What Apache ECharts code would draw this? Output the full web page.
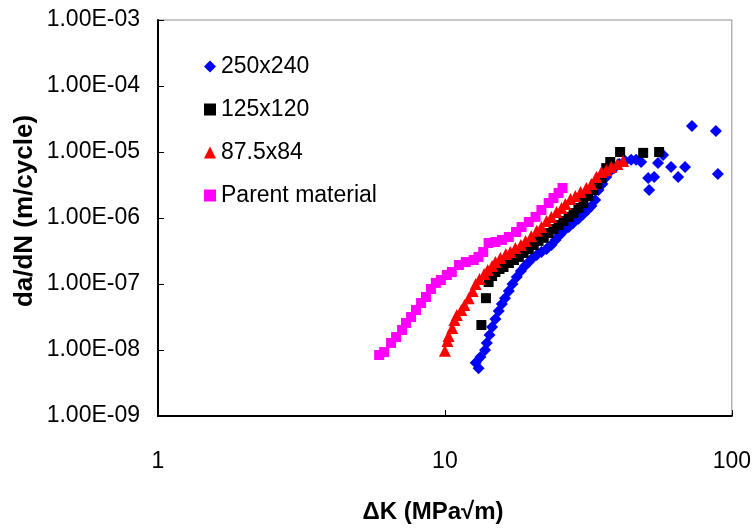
<!DOCTYPE html>
<html>
<head>
<meta charset="utf-8">
<script src="https://cdn.jsdelivr.net/npm/echarts@6/dist/echarts.min.js"></script>
<style>html,body{margin:0;padding:0;background:#fff}#c{width:754px;height:529px}</style>
</head>
<body>
<div id="c"></div>
<script>
// ---- data ----
const seriesNames = ['250x240', '125x120', '87.5x84', 'Parent material'];
const blueK = [13.1,12.8,13.3,13.8,14.0,14.3,14.6,15.0,15.4,15.8,16.2,16.7,17.2,17.8,18.4,19.0,19.6,20.2,20.9,21.7,22.6,23.5,24.3,25.1,25.9,27.0,28.0,29.2,30.4,31.4,32.4,33.4,34.3,35.4,36.5,37.4,38.9,40.5,42.5,44.6,46.4,48.3,51.1,53.6,51.5,55.3,57.6,61.4,65.0,68.7,72.6,88.0,89.4];
const blueV = [5.3e-9,6.4e-9,7.8e-9,1.0e-8,1.28e-8,1.69e-8,2.23e-8,2.95e-8,3.9e-8,4.97e-8,6.1e-8,7.8e-8,1.0e-7,1.28e-7,1.57e-7,1.87e-7,2.15e-7,2.48e-7,2.75e-7,3.05e-7,3.39e-7,3.9e-7,4.65e-7,5.5e-7,6.35e-7,7.3e-7,8.4e-7,9.7e-7,1.15e-6,1.32e-6,1.52e-6,1.87e-6,2.65e-6,3.27e-6,4.18e-6,4.97e-6,5.7e-6,6.6e-6,7.3e-6,7.6e-6,7.6e-6,7.05e-6,4.03e-6,4.18e-6,2.65e-6,6.8e-6,9.0e-6,5.9e-6,4.18e-6,5.9e-6,2.48e-5,2.08e-5,4.65e-6];
const blackK = [13.4,13.9,14.2,14.6,15.0,15.5,16.0,16.7,17.4,18.1,18.8,19.6,20.4,21.2,22.1,23.0,23.9,24.9,25.9,27.0,28.1,29.2,30.4,31.6,32.9,34.0,35.1,36.5,37.7,40.8,49.1,55.8];
const blackV = [2.39e-8,6.1e-8,1.07e-7,1.32e-7,1.52e-7,1.69e-7,1.81e-7,2.08e-7,2.31e-7,2.57e-7,2.95e-7,3.39e-7,3.9e-7,4.5e-7,5.0e-7,5.9e-7,6.8e-7,7.8e-7,9.0e-7,1.04e-6,1.19e-6,1.42e-6,1.69e-6,2.15e-6,2.65e-6,3.27e-6,4.03e-6,5.7e-6,7.05e-6,1.0e-5,9.7e-6,1.0e-5];
const redK = [10.0,10.2,10.3,10.6,10.8,11.0,11.4,11.7,12.1,12.5,12.8,13.2,13.7,14.1,14.6,15.0,15.6,16.3,16.9,17.6,18.4,19.1,20.0,20.9,21.7,22.6,23.5,24.5,25.5,26.3,27.4,28.5,29.7,31.1,32.4,33.7,35.1,36.5,38.0,39.9,41.8];
const redV = [9.7e-9,1.37e-8,1.63e-8,2.15e-8,2.85e-8,3.39e-8,4.03e-8,4.8e-8,6.1e-8,7.8e-8,1.0e-7,1.19e-7,1.42e-7,1.63e-7,1.87e-7,2.15e-7,2.48e-7,2.85e-7,3.05e-7,3.5e-7,3.9e-7,4.5e-7,5.3e-7,6.4e-7,7.3e-7,9.0e-7,1.04e-6,1.23e-6,1.42e-6,1.63e-6,1.94e-6,2.15e-6,2.48e-6,2.85e-6,3.27e-6,4.18e-6,4.97e-6,5.3e-6,5.9e-6,6.6e-6,7.3e-6];
const pinkK = [5.90,6.14,6.49,6.76,7.09,7.32,7.62,7.93,8.26,8.59,8.94,9.30,9.68,10.16,10.57,11.19,11.83,12.6,13.1,13.6,14.2,15.0,15.8,16.7,17.7,18.5,19.6,20.7,21.7,23.0,23.9,24.9,25.7];
const pinkV = [8.4e-9,9.3e-9,1.28e-8,1.57e-8,2.01e-8,2.57e-8,3.16e-8,4.03e-8,5.15e-8,6.35e-8,8.4e-8,1.04e-7,1.15e-7,1.37e-7,1.52e-7,1.94e-7,2.15e-7,2.31e-7,2.57e-7,3.05e-7,4.18e-7,4.33e-7,4.65e-7,5.15e-7,6.14e-7,7.3e-7,8.7e-7,1.04e-6,1.32e-6,1.69e-6,2.01e-6,2.39e-6,2.85e-6];
const xMin = 1, xMax = 100;
const yMin = 1e-9, yMax = 1e-3;

// ---- helpers ----
function zip(a, b) { return a.map((v, i) => [v, b[i]]); }

function fmtY(v) {
  const e = Math.round(Math.log10(v));
  const s = e < 0 ? '-' : '+';
  const a = Math.abs(e);
  return '1.00E' + s + (a < 10 ? '0' : '') + a;
}

const font = '"Liberation Sans", Arial, sans-serif';

const chart = echarts.init(document.getElementById('c'), null, { renderer: 'canvas' });

const tickLen = 6;

const option = {
  animation: false,
  backgroundColor: '#fff',
  grid: { left: 158, right: 20, top: 20, bottom: 113, show: true, borderColor: '#8c8c8c', borderWidth: 1, backgroundColor: 'transparent' },
  legend: {
    orient: 'vertical', left: 199, top: 50, itemGap: 20, itemWidth: 12, itemHeight: 12, selectedMode: false,
    textStyle: { fontFamily: font, fontSize: 23, color: '#000' },
    data: seriesNames
  },
  xAxis: {
    type: 'log', logBase: 10, min: xMin, max: xMax, position: 'bottom',
    axisLine: { show: true, onZero: false, lineStyle: { color: '#000', width: 2 } },
    axisTick: { show: true, inside: true, length: tickLen, lineStyle: { color: '#000', width: 1 } },
    splitLine: { show: false },
    axisLabel: { fontFamily: font, fontSize: 23, color: '#000', margin: 34, formatter: v => String(Math.round(v)) }
  },
  yAxis: {
    type: 'log', logBase: 10, min: yMin, max: yMax, position: 'left',
    axisLine: { show: true, onZero: false, lineStyle: { color: '#000', width: 2 } },
    axisTick: { show: true, inside: true, length: tickLen, lineStyle: { color: '#000', width: 1 } },
    splitLine: { show: false },
    axisLabel: { fontFamily: font, fontSize: 23, color: '#000', margin: 18, formatter: fmtY }
  },
  graphic: [
    { type: 'text', x: 433, y: 512, style: { text: 'ΔK (MPa√m)', font: 'bold 24px ' + font, fill: '#000', align: 'center', verticalAlign: 'middle' } },
    { type: 'text', rotation: Math.PI / 2, x: 25, y: 211, style: { text: 'da/dN (m/cycle)', font: 'bold 26px ' + font, fill: '#000', align: 'center', verticalAlign: 'middle' } }
  ],
  series: [
    { name: seriesNames[0], type: 'scatter', symbol: 'diamond', symbolSize: 12, itemStyle: { color: '#0000ff', opacity: 1 }, data: zip(blueK, blueV), z: 2 },
    { name: seriesNames[1], type: 'scatter', symbol: 'rect', symbolSize: 10, itemStyle: { color: '#000000', opacity: 1 }, data: zip(blackK, blackV), z: 3 },
    { name: seriesNames[3], type: 'scatter', symbol: 'rect', symbolSize: 10, itemStyle: { color: '#ff00ff', opacity: 1 }, data: zip(pinkK, pinkV), z: 4 },
    { name: seriesNames[2], type: 'scatter', symbol: 'triangle', symbolSize: 12, itemStyle: { color: '#ff0000', opacity: 1 }, data: zip(redK, redV), z: 5 }
  ]
};
chart.setOption(option);
</script>
</body>
</html>
